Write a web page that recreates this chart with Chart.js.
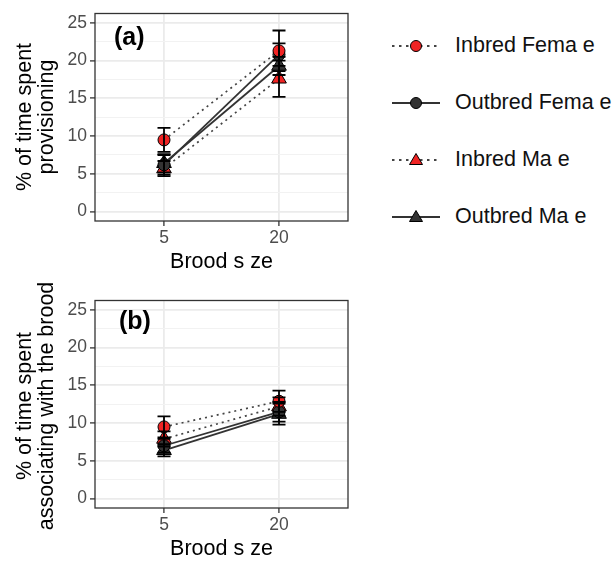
<!DOCTYPE html>
<html>
<head>
<meta charset="utf-8">
<script src="https://cdn.jsdelivr.net/npm/chart.js@4.4.1/dist/chart.umd.min.js"></script>
<style>
  html, body { margin: 0; padding: 0; background: #fff; }
  body { width: 616px; height: 564px; position: relative; overflow: hidden; font-family: "Liberation Sans", Arial, sans-serif; }
  .panel { position: absolute; left: 0; width: 360px; height: 280px; }
  .tag { position: absolute; font-weight: bold; font-size: 25px; line-height: 25px; color: #000; }
  .ytitle { position: absolute; width: 320px; height: 44px; margin-left: -160px; margin-top: -22px;
            transform: rotate(-90deg); text-align: center; font-size: 21.5px; line-height: 22px; color: #000; white-space: nowrap; }
  #legend { position: absolute; left: 388px; top: 0; }
  .item { position: absolute; left: 0; width: 230px; height: 30px; }
  .item svg { position: absolute; left: 0; top: 0; }
  .item span { position: absolute; left: 67px; top: 2px; font-size: 21.5px; color: #111; white-space: nowrap; }
</style>
</head>
<body>
<div class="panel" style="top:0"><canvas id="chartA" width="360" height="280"></canvas></div>
<div class="panel" style="top:287px"><canvas id="chartB" width="360" height="280"></canvas></div>
<div class="ytitle" id="titleA" style="left:35px;top:117px"></div>
<div class="ytitle" id="titleB" style="left:35px;top:406px"></div>
<div class="tag" style="left:114px;top:24px">(a)</div>
<div class="tag" style="left:119px;top:308px">(b)</div>
<div id="legend"></div>
<script>
// ---- data ----
const broodSizes = ['5', '20'];
const seriesNames = ['Inbred Fema e', 'Outbred Fema e', 'Inbred Ma e', 'Outbred Ma e'];
const provisioningMeans = [[9.5, 21.3], [6.2, 20.8], [5.7, 17.6], [6.4, 19.3]];
const provisioningErrors = [[1.6, 2.7], [1.3, 1.5], [1.0, 2.4], [1.2, 1.2]];
const associatingMeans = [[9.5, 12.9], [7.0, 11.5], [7.9, 12.2], [6.4, 11.2]];
const associatingErrors = [[1.4, 1.4], [0.9, 1.3], [1.0, 1.2], [0.8, 1.4]];
const yTicks = [0, 2.5, 5, 7.5, 10, 12.5, 15, 17.5, 20, 22.5, 25];
const titleA = ['% of time spent', 'provisioning'];
const titleB = ['% of time spent', 'associating with the brood'];

const fillColors = ['#f02424', '#333333', '#f02424', '#333333'];
const pointShapes = ['circle', 'circle', 'triangle', 'triangle'];
const dashed = [true, false, true, false];
const FONT = '"Liberation Sans", Arial, sans-serif';

// error bars drawn with the chart's own scales
const errorBars = {
  id: 'errorBars',
  afterDatasetsDraw(chart, args, opts) {
    const { ctx } = chart;
    const xs = chart.scales.x, ys = chart.scales.y;
    ctx.save();
    ctx.strokeStyle = '#000';
    ctx.lineWidth = 1.8;
    opts.errors.forEach((errs, i) => {
      errs.forEach((e, j) => {
        const m = opts.means[i][j];
        const x = xs.getPixelForValue(j + 1);
        const y1 = ys.getPixelForValue(m + e), y2 = ys.getPixelForValue(m - e);
        ctx.beginPath();
        ctx.moveTo(x, y1); ctx.lineTo(x, y2);
        ctx.moveTo(x - 6.5, y1); ctx.lineTo(x + 6.5, y1);
        ctx.moveTo(x - 6.5, y2); ctx.lineTo(x + 6.5, y2);
        ctx.stroke();
      });
    });
    // panel border on top
    const a = chart.chartArea;
    ctx.strokeStyle = '#333';
    ctx.lineWidth = 1.3;
    ctx.strokeRect(a.left, a.top, a.right - a.left, a.bottom - a.top);
    ctx.restore();
  }
};

function makePanel(id, means, errors) {
  const datasets = means.map((vals, i) => ({
    label: seriesNames[i],
    data: vals.map((v, j) => ({ x: j + 1, y: v })),
    borderColor: dashed[i] ? '#444' : '#333',
    borderWidth: dashed[i] ? 1.7 : 1.8,
    borderDash: dashed[i] ? [2, 4] : [],
    pointStyle: pointShapes[i],
    pointRadius: pointShapes[i] === 'circle' ? 6 : 8.5,
    pointBackgroundColor: fillColors[i],
    pointBorderColor: '#000',
    pointBorderWidth: 1,
    tension: 0
  }));

  new Chart(document.getElementById(id), {
    type: 'line',
    data: { datasets },
    plugins: [errorBars],
    options: {
      responsive: false,
      animation: false,
      events: [],
      layout: { padding: { top: 10, right: 12, left: 0, bottom: 0 } },
      plugins: {
        legend: { display: false },
        tooltip: { enabled: false },
        errorBars: { means, errors }
      },
      scales: {
        x: {
          type: 'linear',
          min: 0.4,
          max: 2.6,
          afterBuildTicks: s => { s.ticks = [{ value: 1 }, { value: 2 }]; },
          afterFit: s => { s.height = 59; },
          ticks: {
            callback: v => broodSizes[v - 1],
            color: '#4d4d4d',
            font: { family: FONT, size: 17.5 },
            padding: 2,
            autoSkip: false,
            maxRotation: 0
          },
          grid: { color: '#ebebeb', lineWidth: 1.8, tickColor: '#333', tickLength: 5, tickWidth: 1.3 },
          border: { display: false },
          title: {
            display: true,
            text: 'Brood s ze',
            color: '#000',
            font: { family: FONT, size: 21.5 },
            padding: { top: 0, bottom: 5 }
          }
        },
        y: {
          type: 'linear',
          min: -1.25,
          max: 26.25,
          afterBuildTicks: s => { s.ticks = yTicks.map(v => ({ value: v })); },
          afterFit: s => { s.width = 95; },
          ticks: {
            callback: v => (v % 5 === 0 ? String(v) : ''),
            color: '#4d4d4d',
            font: { family: FONT, size: 17.5 },
            padding: 3,
            autoSkip: false
          },
          grid: {
            color: c => (c.tick && c.tick.value % 5 === 0 ? '#ebebeb' : '#f2f2f2'),
            lineWidth: c => (c.tick && c.tick.value % 5 === 0 ? 1.8 : 1.0),
            tickColor: c => (c.tick && c.tick.value % 5 === 0 ? '#333' : 'rgba(0,0,0,0)'),
            tickLength: 5,
            tickWidth: 1.3
          },
          border: { display: false },
          title: { display: false }
        }
      }
    }
  });
}

makePanel('chartA', provisioningMeans, provisioningErrors);
makePanel('chartB', associatingMeans, associatingErrors);
document.getElementById('titleA').innerHTML = titleA.join('<br>');
document.getElementById('titleB').innerHTML = titleB.join('<br>');

// ---- legend ----
const legendRows = [46, 103, 160, 217];
const legend = document.getElementById('legend');
seriesNames.forEach((name, i) => {
  const row = document.createElement('div');
  row.className = 'item';
  row.style.top = (legendRows[i] - 15) + 'px';
  const stroke = dashed[i] ? 'stroke="#444" stroke-width="2" stroke-dasharray="2.5 4.5"' : 'stroke="#333" stroke-width="2"';
  const marker = pointShapes[i] === 'circle'
    ? '<circle cx="28" cy="15" r="5.5" fill="' + fillColors[i] + '" stroke="#000" stroke-width="1"/>'
    : '<polygon points="28,8.5 34.5,19.5 21.5,19.5" fill="' + fillColors[i] + '" stroke="#000" stroke-width="1"/>';
  row.innerHTML = '<svg width="60" height="30"><line x1="4" y1="15" x2="52" y2="15" ' + stroke + '/>' + marker + '</svg>' +
    '<span>' + name + '</span>';
  legend.appendChild(row);
});
</script>
</body>
</html>
